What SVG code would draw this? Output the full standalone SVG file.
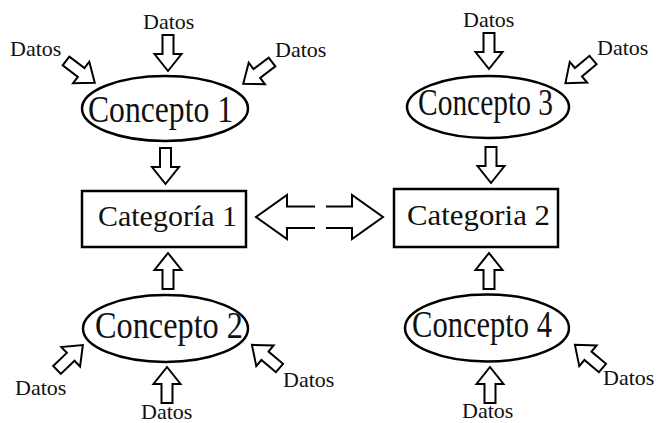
<svg xmlns="http://www.w3.org/2000/svg" width="660" height="423" viewBox="0 0 660 423">
  <style>
    .bg { fill: #ffffff; }
    .concept { fill: none; stroke: #000; stroke-width: 2.5; }
    .cat { fill: #ffffff; stroke: #000; stroke-width: 2.5; }
    .arrow { fill: #ffffff; stroke: #000; stroke-width: 2; stroke-linejoin: miter; }
    .link { fill: none; stroke: #000; stroke-width: 2; stroke-linejoin: miter; }
    .lbl { font-family: "Liberation Serif", "Times New Roman", serif; fill: #111; }
    .big { font-size: 37px; }
    .mid { font-size: 30px; }
    .small { font-size: 22px; }
  </style>
  <defs>
    <!-- hollow block arrow, tail at origin, pointing along +x -->
    <path id="blk" d="M0,-5.5 H19 V-13.5 L36,0 L19,13.5 V5.5 H0 Z"/>
  </defs>
  <rect class="bg" x="0" y="0" width="660" height="423"/>

  <g id="connectors">
    <!-- inputs to Concepto 1 -->
    <use href="#blk" class="arrow" transform="translate(168,35) rotate(90)"/>
    <use href="#blk" class="arrow" transform="translate(66,61) rotate(37)"/>
    <use href="#blk" class="arrow" transform="translate(272,62) rotate(143)"/>
    <!-- inputs to Concepto 3 -->
    <use href="#blk" class="arrow" transform="translate(489,33) rotate(90)"/>
    <use href="#blk" class="arrow" transform="translate(593,60) rotate(140)"/>
    <!-- concepts to categories -->
    <use href="#blk" class="arrow" transform="translate(165.5,148) rotate(90)"/>
    <use href="#blk" class="arrow" transform="translate(491,147) rotate(90)"/>
    <use href="#blk" class="arrow" transform="translate(168,289) rotate(-90)"/>
    <use href="#blk" class="arrow" transform="translate(489,289) rotate(-90)"/>
    <!-- inputs to Concepto 2 -->
    <use href="#blk" class="arrow" transform="translate(167,403) rotate(-90)"/>
    <use href="#blk" class="arrow" transform="translate(57,370) rotate(-44)"/>
    <use href="#blk" class="arrow" transform="translate(279.5,368) rotate(-140)"/>
    <!-- inputs to Concepto 4 -->
    <use href="#blk" class="arrow" transform="translate(490,403) rotate(-90)"/>
    <use href="#blk" class="arrow" transform="translate(602.5,368) rotate(-140)"/>
    <!-- open double link between categories -->
    <path class="link" d="M315,206.5 H287 V195 L256,217 L287,239 V228 H315"/>
    <path class="link" d="M326,206.5 H352 V195 L383,217 L352,239 V228 H326"/>
  </g>

  <g id="concepto1">
    <ellipse class="concept" cx="165" cy="108.5" rx="83" ry="32.5"/>
    <text class="lbl big" x="88" y="122" textLength="145" lengthAdjust="spacingAndGlyphs">Concepto 1</text>
  </g>
  <g id="concepto3">
    <ellipse class="concept" cx="488" cy="107" rx="81" ry="31"/>
    <text class="lbl big" x="418" y="115" textLength="135" lengthAdjust="spacingAndGlyphs">Concepto 3</text>
  </g>
  <g id="concepto2">
    <ellipse class="concept" cx="165.5" cy="328.5" rx="82.5" ry="33.5"/>
    <text class="lbl big" x="95" y="338" textLength="148" lengthAdjust="spacingAndGlyphs">Concepto 2</text>
  </g>
  <g id="concepto4">
    <ellipse class="concept" cx="487" cy="328" rx="82" ry="33.5"/>
    <text class="lbl big" x="412" y="337" textLength="140" lengthAdjust="spacingAndGlyphs">Concepto 4</text>
  </g>

  <g id="categoria1">
    <rect class="cat" x="82" y="191" width="164" height="56"/>
    <text class="lbl mid" x="98" y="226" textLength="139" lengthAdjust="spacingAndGlyphs">Categoría  1</text>
  </g>
  <g id="categoria2">
    <rect class="cat" x="394" y="189" width="164" height="58"/>
    <text class="lbl mid" x="407" y="225" textLength="143" lengthAdjust="spacingAndGlyphs">Categoria  2</text>
  </g>

  <g id="datos">
    <text class="lbl small" x="143" y="29">Datos</text>
    <text class="lbl small" x="10" y="56">Datos</text>
    <text class="lbl small" x="275" y="57">Datos</text>
    <text class="lbl small" x="463" y="27">Datos</text>
    <text class="lbl small" x="597" y="55">Datos</text>
    <text class="lbl small" x="15" y="395">Datos</text>
    <text class="lbl small" x="141" y="419">Datos</text>
    <text class="lbl small" x="283" y="387">Datos</text>
    <text class="lbl small" x="462" y="418">Datos</text>
    <text class="lbl small" x="603" y="385">Datos</text>
  </g>
</svg>
